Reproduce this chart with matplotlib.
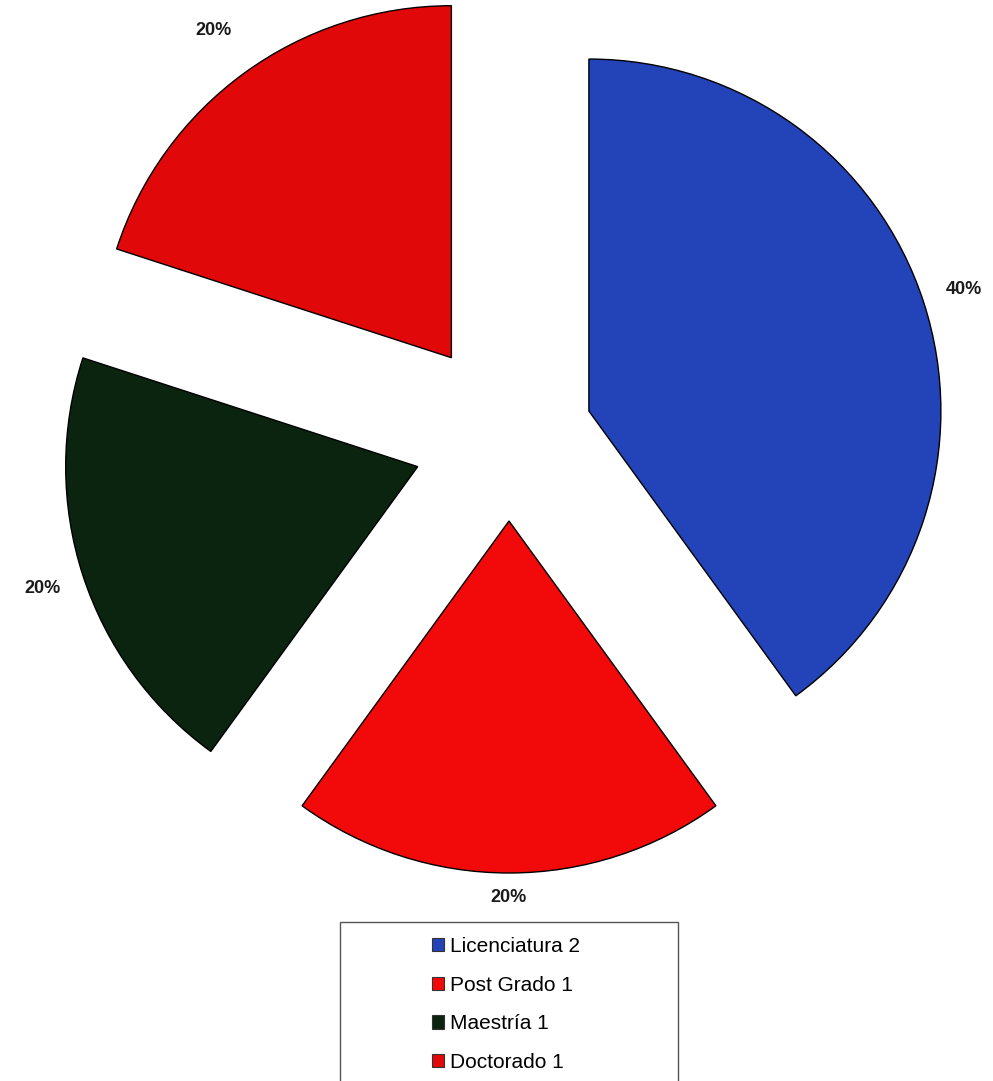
import matplotlib
matplotlib.use("Agg")
import numpy as np
import matplotlib.pyplot as plt
from matplotlib.patches import Rectangle

categories = ["Licenciatura", "Post Grado", "Maestría", "Doctorado"]
counts = [2, 1, 1, 1]
legend_labels = ["Licenciatura 2", "Post Grado 1", "Maestría 1", "Doctorado 1"]
colors = ["#2343b8", "#f20a0a", "#0b2410", "#e00808"]

plt.rcParams['font.family'] = ['Liberation Sans', 'DejaVu Sans']

W, H = 993, 1081
R = 352
# explode offsets in data units (pixels here)
explode = [84, 84, 96, 98]
label_dist = [1.12, 1.07, 1.12, 1.15]

fig = plt.figure(figsize=(W / 100, H / 100), dpi=100)
ax = fig.add_axes([0, 0, 1, 1])

wedges, texts, autotexts = ax.pie(
    counts, colors=colors, explode=explode, startangle=90, counterclock=False,
    radius=R, center=(509, H - 437), autopct='%1.0f%%', pctdistance=1.12,
    wedgeprops=dict(edgecolor='black', linewidth=1.0),
    textprops=dict(fontsize=13, fontweight='bold', color='#1a1a1a'),
    frame=True)

# per-slice label distance, like the original
for w, t, f in zip(wedges, autotexts, label_dist):
    th = np.deg2rad((w.theta1 + w.theta2) / 2)
    cx, cy = w.center
    t.set_position((cx + f * R * np.cos(th), cy + f * R * np.sin(th)))

ax.set_xlim(0, W)
ax.set_ylim(0, H)
ax.set_aspect('equal')
ax.axis('off')

# legend box (bottom runs off the page as in the scan)
ax.add_patch(Rectangle((340, -20), 338, H - 922 + 20, fill=False,
                       edgecolor='#555555', linewidth=1.0, clip_on=True))
leg = ax.legend(wedges, legend_labels, loc='upper left',
                bbox_to_anchor=(413 / W, 1 - 918 / H), frameon=False,
                fontsize=15, handlelength=0.6, handleheight=0.6,
                handletextpad=0.3, labelspacing=0.95)
for h in leg.legend_handles:
    h.set_edgecolor('#333333')
    h.set_linewidth(0.8)

fig.savefig("out.png", dpi=100)
